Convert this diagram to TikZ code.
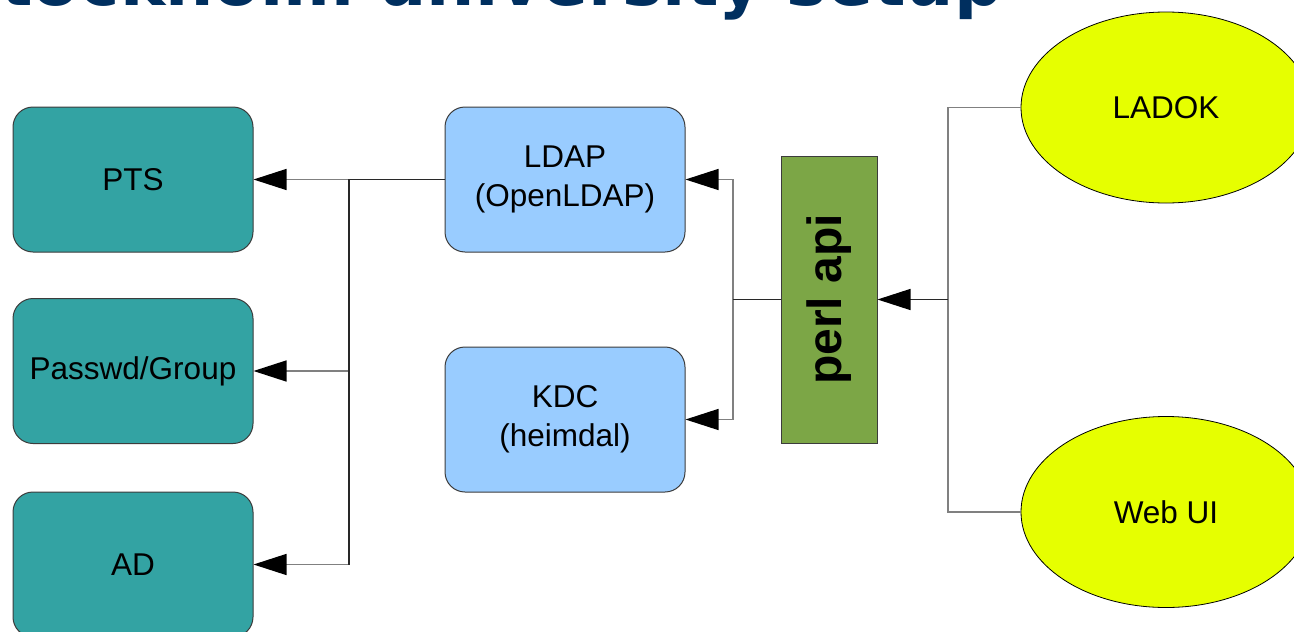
\documentclass[tikz,border=0pt]{standalone}
\usepackage{fontspec}
\setmainfont{Liberation Sans}
\newfontfamily\titlef{DejaVu Sans}
\usetikzlibrary{arrows.meta,shapes.geometric}
\definecolor{teal1}{RGB}{51,163,163}
\definecolor{lblue}{RGB}{153,204,255}
\definecolor{perlg}{RGB}{124,166,70}
\definecolor{ylw}{RGB}{230,255,0}
\definecolor{ttl}{RGB}{0,47,95}
\definecolor{bord}{RGB}{60,60,60}
\definecolor{cgray}{RGB}{128,128,128}
\definecolor{cdark}{RGB}{40,40,40}
\tikzset{
  lbl/.style={font=\fontsize{31.5}{39}\selectfont, align=center, text=black},
  tealbox/.style={lbl, draw=bord, line width=1pt, fill=teal1, rounded corners=20pt, minimum width=240pt, minimum height=145pt, inner sep=0pt},
  bluebox/.style={lbl, draw=bord, line width=1pt, fill=lblue, rounded corners=20pt, minimum width=240pt, minimum height=145pt, inner sep=0pt},
  perlbox/.style={draw=bord, line width=1pt, fill=perlg, minimum width=96pt, minimum height=287pt, inner sep=0pt},
  oval/.style={lbl, ellipse, draw=black, line width=0.8pt, fill=ylw, minimum width=290pt, minimum height=191pt, inner sep=0pt},
  conn/.style={draw=cgray, line width=1.4pt},
  trunk/.style={draw=cdark, line width=1.4pt},
  tip/.style={-{Triangle[length=33pt,width=21pt,color=black,fill=black]}}
}
\begin{document}
\begin{tikzpicture}[x=1pt,y=-1pt]
\useasboundingbox (0,0) rectangle (1294,632);
\clip (0,0) rectangle (1294,632);
\fill[white] (0,0) rectangle (1294,632);
% title (cropped at the top edge, as in the reference)
\node[anchor=base east, inner sep=0pt, text=ttl, font=\titlef\bfseries\fontsize{68}{80}\selectfont] (title) at (1003,5) {Stockholm university setup};
% nodes
\node[tealbox] (pts) at (133,179.5) {PTS};
\node[tealbox] (pw) at (133,371) {Passwd/Group};
\node[tealbox] (ad) at (133,564.5) {AD};
\node[bluebox] (ldap) at (565,179.5) {LDAP\\(OpenLDAP)};
\node[bluebox] (kdc) at (565,419.5) {KDC\\(heimdal)};
\node[perlbox] (perl) at (829,299.5) {};
\node[rotate=90, font=\bfseries\fontsize{48}{56}\selectfont] (perltxt) at (perl.center) {perl api};
\node[oval] (ladok) at (1166,107.5) {LADOK};
\node[oval] (web) at (1166,512) {Web UI};
% junctions
\coordinate (j1) at (349,179.5);
\coordinate (j1b) at (349,564.5);
\coordinate (j2) at (733,299.5);
\coordinate (j3) at (948,299.5);
% left fan-out
\draw[conn,tip] (j1) -- (pts.east);
\draw[conn,tip] (j1) |- (pw.east);
\draw[conn,tip] (j1) |- (ad.east);
\draw[trunk] (ldap.west) -- (j1) -- (j1b);
% middle fan-out
\draw[conn,tip] (j2) |- (ldap.east);
\draw[conn,tip] (j2) |- (kdc.east);
\draw[trunk] (perl.west) -- (j2);
% right fan-in
\draw[conn] (ladok.west) -| (j3);
\draw[conn] (web.west) -| (j3);
\draw[trunk,tip] (j3) -- (perl.east);
\end{tikzpicture}
\end{document}
